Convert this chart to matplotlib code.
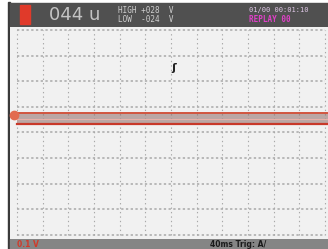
import matplotlib
matplotlib.use('Agg')
import matplotlib.pyplot as plt
from matplotlib.patches import Rectangle

# scope readings
reading = '044 u'
high_txt = 'HIGH +028  V'
low_txt = 'LOW  -024  V'
date_txt = '01/00 00:01:10'
replay_txt = 'REPLAY 00'
scale_txt = '0.1 V'
time_txt = '40ms Trig: A/'

# trace envelope (divisions), flat signal
trace_t = [0, 12.2]
trace_high = [0.76, 0.76]
trace_low = [0.33, 0.33]
ground_level = 0.68

n_xdiv = 12
n_ydiv = 8

W, H = 328, 249
fig = plt.figure(figsize=(W / 100, H / 100), dpi=100)
fig.patch.set_facecolor('white')

def fx(px):
    return px / W

def fy(py):
    return 1 - py / H

def bar(x0, y0, x1, y1, color, z=1):
    fig.patches.append(Rectangle((fx(x0), fy(y1)), fx(x1) - fx(x0), fy(y0) - fy(y1),
                                 transform=fig.transFigure, color=color, zorder=z))

# left screen edge
bar(8, 2, 10, 249, '#3a3a3a')
# top bar
bar(10, 3, 328, 27, '#505050')
# bottom bar
bar(10, 239, 328, 249, '#858585')

# plot area
ax = fig.add_axes([fx(10), fy(239), fx(318), fy(27) - fy(239)])
ax.set_zorder(5)
ax.set_facecolor('#f1f1f1')
ax.set_xlim(-0.27, 12.12)
ax.set_ylim(-4.16, 4.12)
for s in ax.spines.values():
    s.set_visible(False)
ax.set_xticks([])
ax.set_yticks([])

grid_c = '#a8a8a8'
for i in range(n_xdiv + 1):
    ax.plot([i, i], [-4, 4], color=grid_c, lw=0.8, ls=(0, (1.2, 2.8)), zorder=1)
for j in range(n_ydiv + 1):
    y = j - 4
    ax.plot([0, 12], [y, y], color=grid_c, lw=1.1, ls=(0, (1.5, 1.6)), zorder=1)

# trace
ax.fill_between(trace_t, trace_low, trace_high, color='#8f6a65', alpha=0.55, lw=0, zorder=2)
ax.plot(trace_t, trace_high, color='#d2553f', lw=1.4, zorder=3)
ax.plot(trace_t, trace_low, color='#c8392a', lw=1.6, zorder=3)
ax.plot(trace_t, [(a + b) / 2 for a, b in zip(trace_high, trace_low)],
        color='#e8b0a8', lw=0.8, zorder=3)
ax.plot([-0.12], [ground_level], 'o', color='#e26b50', ms=6, zorder=4, clip_on=False)

# trigger marker
ax.text(6.1, 2.5, 'ʃ', fontsize=8, color='#222222', ha='center', va='center', fontweight='bold')

# header
bar(20, 5, 30, 24, '#e03a2a', 2)
fig.text(fx(49), fy(15), reading, fontsize=13, color='#c4c4c4', va='center', ha='left',
         family='Liberation Sans Narrow', zorder=3)
fig.text(fx(118), fy(10), high_txt, fontsize=5.5, color='#cfcfcf', va='center', ha='left',
         family='DejaVu Sans Mono', zorder=3)
fig.text(fx(118), fy(20), low_txt, fontsize=5.5, color='#cfcfcf', va='center', ha='left',
         family='DejaVu Sans Mono', zorder=3)
fig.text(fx(249), fy(10), date_txt, fontsize=5, color='#e0c8e8', va='center', ha='left',
         family='DejaVu Sans Mono', zorder=3)
fig.text(fx(249), fy(20), replay_txt, fontsize=5.5, color='#e040c8', va='center', ha='left',
         family='DejaVu Sans Mono', fontweight='bold', zorder=3)

# footer
fig.text(fx(17), fy(244.5), scale_txt, fontsize=5.5, color='#d03a2a', va='center', ha='left',
         fontweight='bold', zorder=3)
fig.text(fx(210), fy(244.5), time_txt, fontsize=5.5, color='#1a1a1a', va='center', ha='left',
         fontweight='bold', zorder=3)

fig.savefig('out.png', dpi=100)
